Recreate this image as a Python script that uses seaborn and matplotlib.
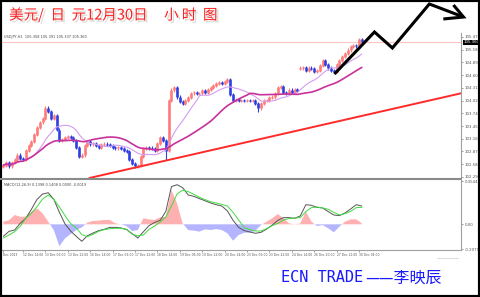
import numpy as np
import pandas as pd
import matplotlib
matplotlib.use("Agg")
import matplotlib.pyplot as plt
import matplotlib.patheffects as pe
import matplotlib.transforms as mtransforms
from matplotlib.lines import Line2D
from matplotlib.patches import Rectangle
import seaborn as sns

# ---------------- data (2-hour bars, USD/JPY) ----------------
closes = [
    102.56, 102.61, 102.54, 102.61, 102.68, 102.79, 102.72, 102.68, 102.90, 103.00,
    103.09, 103.25, 103.41, 103.54, 103.63, 103.86, 103.77, 103.62, 103.68, 103.36,
    103.13, 103.15, 103.18, 103.22, 103.18, 103.13, 102.97, 102.75, 102.79, 103.00,
    103.09, 103.04, 103.06, 103.00, 102.97, 103.02, 103.04, 103.02, 103.00, 102.97,
    102.95, 102.97, 102.93, 102.90, 102.86, 102.68, 102.59, 102.54, 102.56, 102.75,
    102.93, 102.97, 102.95, 102.93, 102.90, 103.06, 103.18, 103.13, 102.90, 104.04,
    104.27, 104.32, 104.11, 104.00, 103.97, 104.04, 104.09, 104.20, 104.22, 104.18,
    104.20, 104.25, 104.22, 104.29, 104.32, 104.38, 104.41, 104.45, 104.41, 104.47,
    104.50, 104.16, 104.02, 104.06, 104.04, 104.04, 104.02, 104.04, 104.02, 104.04,
    103.97, 103.86, 103.97, 104.04, 104.04, 104.09, 104.11, 104.20, 104.32, 104.34,
    104.22, 104.20, 104.27, 104.22, 104.29, 104.25, 104.77, 104.79, 104.72, 104.77,
    104.75, 104.70, 104.72, 104.82, 104.95, 104.84, 104.77, 104.72, 104.68, 104.84,
    104.95, 105.04, 105.09, 105.18, 105.25, 105.29, 105.27, 105.41, 105.36,
]
first_open = 102.52
gap_opens = {106: 104.76}
wick_lows = {58: 102.68, 91: 103.77}
fast_window = 12
slow_window = 30

macd_bar_index = list(range(0, 129, 2))
macd_hist = [
    0.022, 0.033, 0.077, 0.063, 0.063, 0.105, 0.132, 0.091, 0.022, -0.047,
    -0.180, -0.116, -0.080, -0.047, -0.025, 0.014, 0.028, 0.030, 0.036, 0.036,
    0.008, 0.000, -0.014, -0.055, -0.047, 0.050, 0.041, 0.036, 0.058, 0.063,
    0.283, 0.173, 0.008, -0.047, -0.052, -0.060, -0.041, -0.047, -0.039, -0.047,
    -0.074, -0.135, -0.088, -0.069, -0.069, -0.052, -0.006, 0.022, 0.050, 0.085,
    0.050, 0.008, 0.000, 0.008, 0.105, 0.022, -0.014, -0.006, -0.033, -0.066,
    -0.019, 0.022, 0.041, 0.041, 0.008,
]
macd_main = [
    -0.099, -0.058, -0.047, 0.008, 0.050, 0.124, 0.206, 0.250, 0.261, 0.206,
    0.099, 0.003, -0.055, -0.099, -0.140, -0.094, -0.072, -0.052, -0.041, -0.025,
    -0.025, -0.030, -0.044, -0.077, -0.113, -0.061, -0.011, 0.016, 0.033, 0.107,
    0.311, 0.327, 0.303, 0.242, 0.231, 0.212, 0.195, 0.176, 0.162, 0.151,
    0.110, 0.033, -0.025, -0.052, -0.063, -0.074, -0.066, -0.039, -0.006, 0.033,
    0.055, 0.055, 0.050, 0.069, 0.162, 0.157, 0.140, 0.135, 0.105, 0.077,
    0.072, 0.094, 0.127, 0.162, 0.151,
]
macd_signal = [
    -0.113, -0.088, -0.061, -0.017, 0.050, 0.091, 0.146, 0.209, 0.242, 0.206,
    0.143, 0.072, 0.006, -0.030, -0.085, -0.102, -0.083, -0.058, -0.044, -0.036,
    -0.033, -0.033, -0.041, -0.083, -0.094, -0.088, -0.041, -0.014, 0.019, 0.061,
    0.151, 0.250, 0.283, 0.270, 0.248, 0.223, 0.204, 0.187, 0.176, 0.165,
    0.151, 0.099, 0.036, -0.028, -0.044, -0.055, -0.055, -0.036, -0.011, 0.008,
    0.036, 0.047, 0.052, 0.055, 0.105, 0.138, 0.143, 0.135, 0.124, 0.099,
    0.077, 0.088, 0.107, 0.138, 0.140,
]

price_ticks = [105.475, 105.185, 104.895, 104.605, 104.315, 104.025,
               103.740, 103.450, 103.160, 102.870, 102.580, 102.290]
price_tick_labels = ["105.475", "105.185", "104.895", "104.605", "104.315", "104.025",
                     "103.740", "103.450", "103.160", "102.870", "102.580", "102.290"]
current_price = 105.360
current_price_label = "105.360"
macd_ticks = [0.3544, 0.0, -0.2071]
macd_tick_labels = ["0.3544", "0.00", "-0.2071"]
time_tick_bars = [0, 7, 15, 23, 31, 39, 47, 55, 63, 71, 79, 87, 95, 103, 111, 119, 127]
time_tick_labels = ["Dec 2013", "12 Dec 14:00", "13 Dec 06:00", "13 Dec 22:00",
                    "16 Dec 14:00", "17 Dec 06:00", "17 Dec 22:00", "18 Dec 14:00",
                    "19 Dec 06:00", "19 Dec 22:00", "20 Dec 14:00", "23 Dec 06:00",
                    "23 Dec 22:00", "24 Dec 14:00", "26 Dec 20:00", "27 Dec 12:00",
                    "30 Dec 04:00"]

trend_bars = [30.7, 163.9]
trend_prices = [102.267, 104.201]
arrow_bars = [118.2, 132.5, 138.9, 152.1, 164.3]
arrow_prices = [104.633, 105.589, 105.225, 106.226, 105.930]
arrow_head_bars = [157.1, 164.3, 160.7]
arrow_head_prices = [105.885, 105.930, 106.203]

title_text = "美元/  日  元12月30日     小 时  图"
header_text = "USDJPY,H1  105.358 105.391 105.337 105.360"
macd_header = "MACD(12,26,9) 0.1398 0.1408 0.0000 -0.0019"
signature_a = "ECN TRADE"
signature_b = "——李映辰"

# ---------------- figure ----------------
sns.set_style("white")
plt.rcParams['font.family'] = ['DejaVu Sans', 'Noto Sans CJK SC']

W, H = 480, 297
fig = plt.figure(figsize=(4.8, 2.97), dpi=100)
fig.patch.set_facecolor("white")

def fx(px):
    return px / W

def fy(py):
    return 1 - py / H

ax = fig.add_axes([fx(2), fy(178), fx(459), 145 / H])
axm = fig.add_axes([fx(2), fy(250), fx(459), 70 / H])

xlim = (-0.5, 163.4)
for a in (ax, axm):
    a.set_xlim(*xlim)
    a.set_facecolor("white")
    for s in ("top", "left", "bottom"):
        a.spines[s].set_visible(False)
    a.spines["right"].set_color("#a0a0a0")
    a.spines["right"].set_linewidth(0.8)
    a.yaxis.tick_right()
    a.tick_params(axis="y", labelsize=2.8, colors="#555555", length=1.5, width=0.4, pad=1)

ax.set_ylim(102.267, 105.566)
axm.set_ylim(-0.212, 0.366)

# ---------------- candles ----------------
idx = np.arange(len(closes))
c = np.array(closes)
opens = np.array([first_open] + closes[:-1])
for k, v in gap_opens.items():
    opens[k] = v
up = c >= opens
cols = np.where(up, "#ff7a7a", "#2f3fe0")
tops = np.maximum(opens, c)
bots = np.minimum(opens, c)
highs = tops + 0.035
lows = bots - 0.035
for k, v in wick_lows.items():
    lows[k] = v
ax.vlines(idx, lows, highs, colors=cols, lw=0.8)
ax.vlines(idx, bots - 0.01, tops + 0.01, colors=cols, lw=1.9)

# moving averages
df = pd.DataFrame({"bar": idx, "close": c})
df["fast"] = df["close"].rolling(fast_window, min_periods=1).mean()
df["slow"] = df["close"].rolling(slow_window, min_periods=1).mean()
sns.lineplot(data=df, x="bar", y="fast", ax=ax, color="#d39cf2", lw=0.8)
sns.lineplot(data=df, x="bar", y="slow", ax=ax, color="#c8309c", lw=1.2)

ax.axhline(current_price, color="#ffc4c4", lw=0.8, zorder=0)
ax.plot(trend_bars, trend_prices, color="#ff2a2a", lw=1.4)
ax.plot(arrow_bars, arrow_prices, color="black", lw=2.2, clip_on=False,
        solid_joinstyle="miter", solid_capstyle="butt", zorder=5)
ax.plot(arrow_head_bars, arrow_head_prices, color="black", lw=2.2, clip_on=False,
        solid_joinstyle="miter", solid_capstyle="butt", zorder=5)

ax.set_yticks(price_ticks)
ax.set_yticklabels(price_tick_labels)
ax.set_xticks([])
ax.set_xlabel("")
ax.set_ylabel("")
trans = mtransforms.blended_transform_factory(ax.transAxes, ax.transData)
ax.text(1.006, current_price, current_price_label, transform=trans, fontsize=2.8,
        color="white", va="center", ha="left",
        bbox=dict(facecolor="black", edgecolor="none", pad=0.4))
ax.text(0.004, 0.975, header_text, transform=ax.transAxes, fontsize=2.5,
        color="#444444", va="center", ha="left")

# ---------------- MACD ----------------
mb = np.array(macd_bar_index)
mh = np.array(macd_hist)
axm.fill_between(mb, 0, mh, where=mh >= 0, interpolate=True, color="#ffb0b0", lw=0)
axm.fill_between(mb, 0, mh, where=mh <= 0, interpolate=True, color="#b4b4ff", lw=0)
mdf = pd.DataFrame({"bar": mb, "main": macd_main, "signal": macd_signal})
sns.lineplot(data=mdf, x="bar", y="main", ax=axm, color="#555555", lw=0.7)
sns.lineplot(data=mdf, x="bar", y="signal", ax=axm, color="#3fdc3f", lw=0.7)
axm.set_yticks(macd_ticks)
axm.set_yticklabels(macd_tick_labels)
axm.set_ylabel("")
axm.set_xlabel("")
axm.spines["bottom"].set_visible(True)
axm.spines["bottom"].set_color("#a0a0a0")
axm.spines["bottom"].set_linewidth(0.8)
axm.set_xticks(time_tick_bars)
axm.set_xticklabels(time_tick_labels, ha="left")
axm.tick_params(axis="x", labelsize=2.2, colors="#555555", length=1.5, width=0.4, pad=1,
                bottom=True)
axm.text(0.004, 0.93, macd_header, transform=axm.transAxes, fontsize=2.5,
         color="#444444", va="center", ha="left")

# panel separator, faint scrollbar stub & outer frame
fig.add_artist(Line2D([0, fx(461)], [fy(178.5), fy(178.5)], color="#8a8a8a", lw=1.5))
fig.add_artist(Line2D([fx(437), fx(458)], [fy(258), fy(258)], color="#dcdcdc", lw=0.8))
fig.add_artist(Rectangle((0, 0), 1, 1, transform=fig.transFigure, fill=False,
                         edgecolor="black", lw=3))

# title and signature
fig.text(fx(9), fy(15), title_text, fontsize=10.5, color="#ff2020", va="center",
         ha="left", family=["Noto Sans CJK SC", "DejaVu Sans"],
         path_effects=[pe.withSimplePatchShadow(offset=(1.5, -1.5),
                                                shadow_rgbFace="#aaaaaa", alpha=0.45)])
fig.text(fx(281), fy(278), signature_a, fontsize=11, color="#1a1aff", va="center",
         ha="left", family=["DejaVu Sans Mono"])
fig.text(fx(365), fy(278), signature_b, fontsize=11.5, color="#1a1aff", va="center",
         ha="left", family=["Noto Sans CJK SC", "DejaVu Sans"])

fig.savefig("out.png", dpi=100, facecolor="white")
